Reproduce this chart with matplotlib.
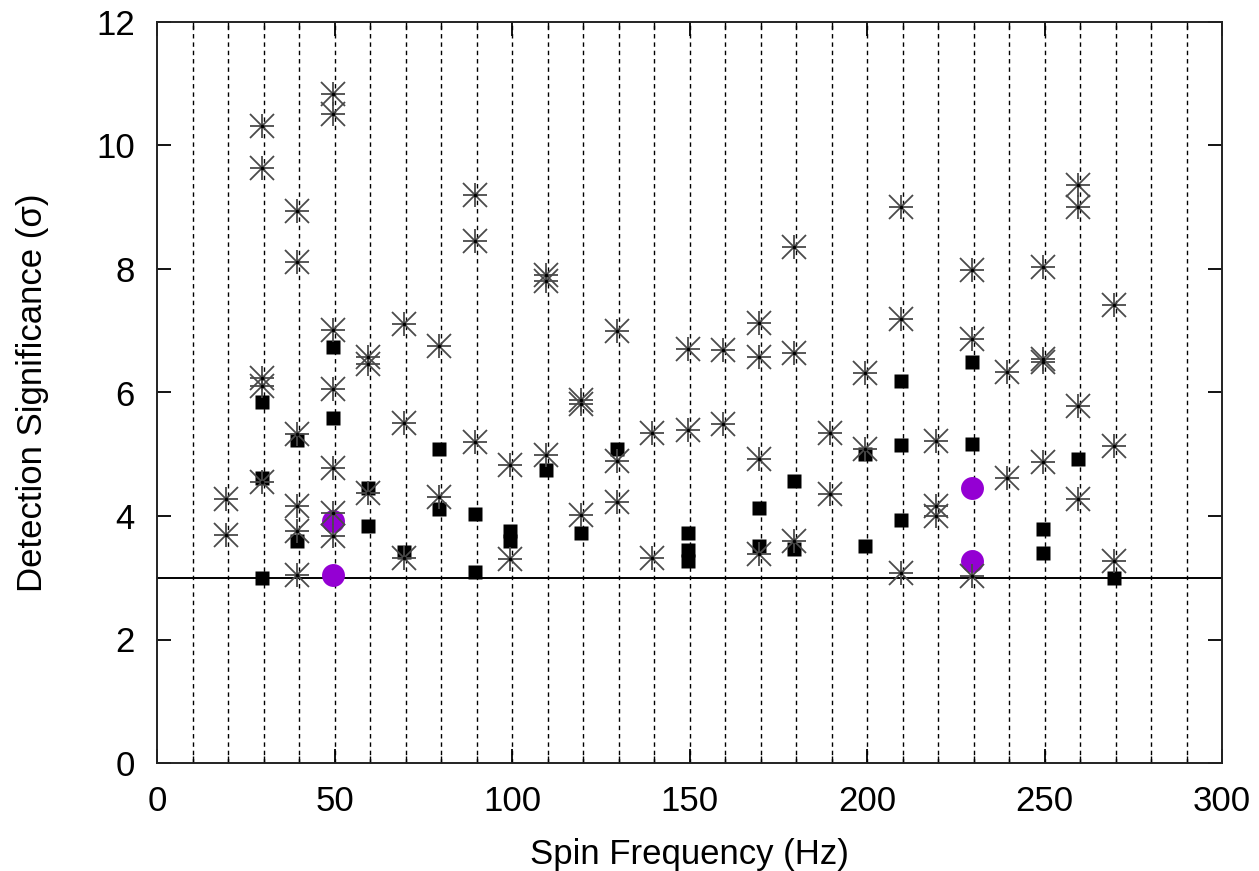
import matplotlib
matplotlib.use("Agg")
import matplotlib.pyplot as plt
from matplotlib.ticker import MultipleLocator

plt.rcParams['font.family'] = ['Liberation Sans', 'DejaVu Sans']

# Asterisk points (spin frequency, significance)
star_x = [19.5, 19.5,
          29.5, 29.5, 29.5, 29.5, 29.5,
          39.5, 39.5, 39.5, 39.5, 39.5, 39.5,
          49.5, 49.5, 49.5, 49.5, 49.5, 49.5, 49.5,
          59.5, 59.5, 59.5,
          69.5, 69.5, 69.5,
          79.5, 79.5,
          89.5, 89.5, 89.5,
          99.5, 99.5,
          109.5, 109.5, 109.5,
          119.5, 119.5, 119.5,
          129.5, 129.5, 129.5,
          139.5, 139.5,
          149.5, 149.5,
          159.5, 159.5,
          169.5, 169.5, 169.5, 169.5,
          179.5, 179.5, 179.5,
          189.5, 189.5,
          199.5, 199.5,
          209.5, 209.5, 209.5,
          219.5, 219.5, 219.5,
          229.5, 229.5, 229.5,
          239.5, 239.5,
          249.5, 249.5, 249.5, 249.5,
          259.5, 259.5, 259.5, 259.5,
          269.5, 269.5, 269.5]
star_y = [4.28, 3.69,
          10.31, 9.63, 6.23, 6.11, 4.55,
          8.94, 8.11, 5.32, 4.17, 3.76, 3.04,
          10.83, 10.51, 7.02, 6.05, 4.77, 4.05, 3.67,
          6.58, 6.46, 4.38,
          7.11, 5.51, 3.32,
          6.76, 4.30,
          9.20, 8.45, 5.20,
          4.82, 3.30,
          7.90, 7.80, 4.98,
          5.88, 5.82, 4.01,
          6.99, 4.89, 4.22,
          5.34, 3.32,
          6.70, 5.39,
          6.69, 5.49,
          7.13, 6.57, 4.93, 3.38,
          8.35, 6.64, 3.59,
          5.35, 4.35,
          6.32, 5.08,
          9.00, 7.19, 3.08,
          5.21, 4.16, 4.00,
          7.99, 6.86, 3.03,
          6.34, 4.61,
          8.04, 6.55, 6.49, 4.87,
          9.36, 9.00, 5.78, 4.27,
          7.42, 5.13, 3.27]

# Filled square points
square_x = [29.5, 29.5, 29.5,
            39.5, 39.5,
            49.5, 49.5,
            59.5, 59.5,
            69.5,
            79.5, 79.5,
            89.5, 89.5,
            99.5, 99.5,
            109.5,
            119.5,
            129.5,
            149.5, 149.5, 149.5,
            169.5, 169.5,
            179.5, 179.5,
            199.5, 199.5,
            209.5, 209.5, 209.5,
            229.5, 229.5,
            249.5, 249.5,
            259.5,
            269.5]
square_y = [5.84, 4.61, 3.00,
            5.23, 3.59,
            6.74, 5.59,
            4.46, 3.84,
            3.42,
            5.08, 4.12,
            4.03, 3.10,
            3.76, 3.59,
            4.75,
            3.73,
            5.08,
            3.73, 3.45, 3.27,
            4.13, 3.51,
            4.57, 3.46,
            5.00, 3.51,
            6.19, 5.15, 3.93,
            6.50, 5.16,
            3.79, 3.40,
            4.92,
            3.00]

# Purple circle points
circle_x = [49.5, 49.5, 229.5, 229.5]
circle_y = [3.92, 3.05, 4.46, 3.27]

threshold = 3.0
grid_freqs = list(range(10, 300, 10))

fig = plt.figure(figsize=(12.59, 8.71), dpi=100)
ax = fig.add_axes([157/1259, 1 - 763/871, (1222-157)/1259, (763-22)/871])

for g in grid_freqs:
    ax.axvline(g, color='black', lw=1.0, ls=(0, (3.2, 2.8)), zorder=1)
ax.axhline(threshold, color='black', lw=1.4, zorder=1.5)

ax.plot(circle_x, circle_y, 'o', color='#9400D3', ms=16.5, mec='none', zorder=2)
ax.plot(square_x, square_y, 's', color='black', ms=9.5, mec='none', zorder=3)
ax.plot(star_x, star_y, '+', color='#4a4a4a', ms=17, mew=1.3, zorder=4)
ax.plot(star_x, star_y, 'x', color='#4a4a4a', ms=17, mew=1.3, zorder=4)
ax.plot(star_x, star_y, '.', color='black', ms=3, zorder=4.5)

ax.set_xlim(0, 300)
ax.set_ylim(0, 12)
ax.xaxis.set_major_locator(MultipleLocator(50))
ax.xaxis.set_minor_locator(MultipleLocator(10))
ax.yaxis.set_major_locator(MultipleLocator(2))
ax.tick_params(axis='both', which='major', direction='in', length=10, width=1.3,
               top=True, right=True, labelsize=25, colors='black')
ax.tick_params(axis='x', which='major', pad=16)
ax.tick_params(axis='y', which='major', pad=16)
ax.tick_params(axis='x', which='minor', direction='in', length=5, width=1.0, top=True)
for s in ax.spines.values():
    s.set_linewidth(1.4)
    s.set_color('#222222')

ax.set_xlabel('Spin Frequency (Hz)', fontsize=25, labelpad=14)
ax.set_ylabel('Detection Significance (σ)', fontsize=25, labelpad=34)

fig.savefig('out.png', dpi=100)
